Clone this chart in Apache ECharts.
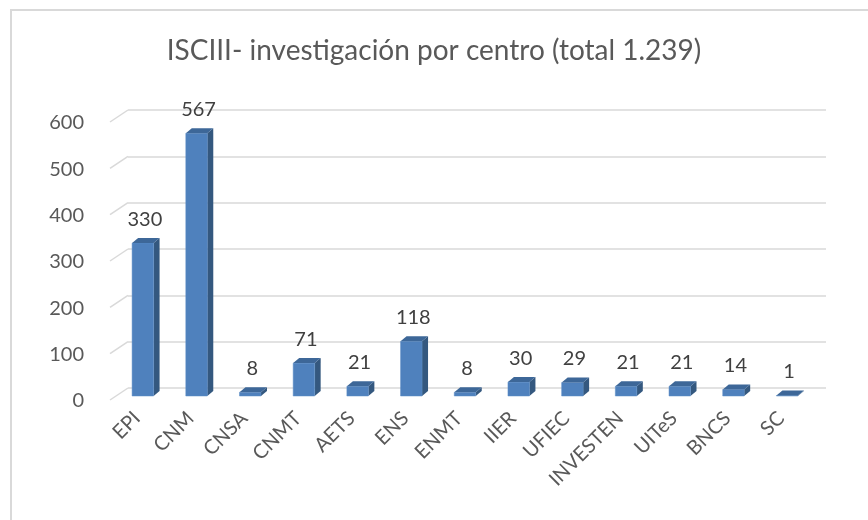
<!DOCTYPE html>
<html>
<head>
<meta charset="utf-8">
<script src="https://cdn.jsdelivr.net/npm/echarts@6/dist/echarts.min.js"></script>
<style>
  html, body { margin: 0; padding: 0; background: #fff; }
  #chart { width: 868px; height: 520px; }
</style>
</head>
<body>
<div id="chart"></div>
<script>
const centros = ['EPI', 'CNM', 'CNSA', 'CNMT', 'AETS', 'ENS', 'ENMT', 'IIER', 'UFIEC', 'INVESTEN', 'UITeS', 'BNCS', 'SC'];
const investigacion = [330, 567, 8, 71, 21, 118, 8, 30, 29, 21, 21, 14, 1];
const yTicks = [0, 100, 200, 300, 400, 500, 600];

const FONT = 'Lato, "Open Sans", sans-serif';
// perspective: front plane is shifted left/down from the back wall
const DEPTH_X = 18, DEPTH_Y = 12;

const chart = echarts.init(document.getElementById('chart'));

function renderBar(params, api) {
  const i = api.value(0);
  const top = api.coord([i, api.value(1)]);
  const base = api.coord([i, 0]);
  const w = api.size([1, 0])[0] * 0.4;
  const dx = 6, dy = -5;
  const x0 = top[0] - 12 - w / 2;
  const yT = top[1] + 8;
  const yB = base[1] + 8;
  return {
    type: 'group',
    children: [
      { type: 'polygon', shape: { points: [[x0 + w, yT], [x0 + w + dx, yT + dy], [x0 + w + dx, yB + dy], [x0 + w, yB]] },
        style: { fill: '#34587f' } },
      { type: 'rect', shape: { x: x0, y: yT, width: w, height: yB - yT },
        style: { fill: '#4f81bd', stroke: '#5b8cc6', lineWidth: 0.5 } },
      { type: 'polygon', shape: { points: [[x0, yT], [x0 + dx, yT + dy], [x0 + w + dx, yT + dy], [x0 + w, yT]] },
        style: { fill: '#3d6798' } },
      { type: 'text', x: x0 + w / 2 + 2, y: yT - 24,
        style: { text: String(api.value(1)), fill: '#404040', fontSize: 20, fontFamily: FONT,
                 align: 'center', verticalAlign: 'middle' } }
    ]
  };
}

function renderDiagonal(params, api) {
  const p = api.coord([0, api.value(0)]);
  const x = params.coordSys.x;
  return {
    type: 'line',
    shape: { x1: x - DEPTH_X, y1: p[1] + DEPTH_Y, x2: x, y2: p[1] },
    style: { stroke: '#d9d9d9', lineWidth: 1.5 }
  };
}

chart.setOption({
  animation: false,
  title: {
    text: 'ISCIII- investigación por centro (total 1.239)',
    left: 'center', top: 32,
    textStyle: { fontFamily: FONT, fontSize: 28, fontWeight: 'normal', color: '#595959' }
  },
  graphic: [
    { type: 'polyline', shape: { points: [[11, 520], [11, 10], [868, 10]] },
      style: { stroke: '#d9d9d9', lineWidth: 2, fill: null } }
  ],
  grid: [
    { left: 128, right: 42, top: 110, bottom: 132 },
    { left: 110, right: 60, top: 123, bottom: 119 }
  ],
  xAxis: [
    { type: 'category', gridIndex: 0, data: centros,
      axisLine: { show: false }, axisTick: { show: false }, axisLabel: { show: false } },
    { type: 'category', gridIndex: 1, data: centros,
      axisLine: { show: false }, axisTick: { show: false },
      axisLabel: { rotate: 45, margin: 14, color: '#595959', fontSize: 20, fontFamily: FONT, interval: 0 } }
  ],
  yAxis: [
    { type: 'value', gridIndex: 0, min: 0, max: 600, interval: 100,
      axisLabel: { show: false }, axisLine: { show: false }, axisTick: { show: false },
      splitLine: { lineStyle: { color: '#d9d9d9', width: 1.5 } } },
    { type: 'value', gridIndex: 1, min: 0, max: 600, interval: 100,
      axisLine: { show: false }, axisTick: { show: false }, splitLine: { show: false },
      axisLabel: { margin: 26, color: '#595959', fontSize: 20, fontFamily: FONT } }
  ],
  series: [
    { type: 'custom', xAxisIndex: 0, yAxisIndex: 0, silent: true,
      data: yTicks.map(v => [v]), encode: { y: 0 },
      renderItem: renderDiagonal, z: 1 },
    { type: 'custom', xAxisIndex: 0, yAxisIndex: 0,
      data: investigacion.map((v, i) => [i, v]), encode: { x: 0, y: 1 },
      renderItem: renderBar, z: 2 }
  ]
});
</script>
</body>
</html>
